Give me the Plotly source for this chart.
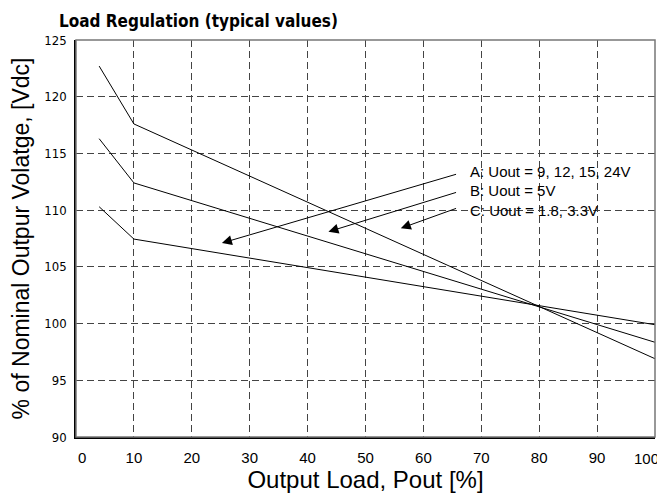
import plotly.graph_objects as go

# Data
load_pct = [4, 10, 100]
series_a = [122.7, 117.6, 96.9]   # A: Uout = 9, 12, 15, 24V
series_b = [116.3, 112.4, 98.35]  # B: Uout = 5V
series_c = [110.3, 107.45, 99.9]  # C: Uout = 1.8, 3.3V

x_ticks = [0, 10, 20, 30, 40, 50, 60, 70, 80, 90, 100]
x_ticktext = ["\u00a0\u00a0\u00a00", "10", "20", "30", "40", "50", "60", "70", "80",
              "90", ""]
last_x_label = "100"
y_ticks = [90, 95, 100, 105, 110, 115, 120, 125]

labels = ["A: Uout = 9, 12, 15, 24V", "B: Uout = 5V", "C: Uout = 1.8, 3.3V"]
label_x = 67.8
label_y = [113.45, 111.75, 110.0]
arrow_tail_x = [65.9, 65.9, 65.9]
arrow_tail_y = [113.2, 111.6, 110.2]
arrow_tip_x = [25.2, 43.6, 56.1]
arrow_tip_y = [107.1, 108.1, 108.4]

NARROW = "DejaVu Sans Condensed, Liberation Sans Narrow, Arial Narrow, sans-serif"
SANS = "Liberation Sans, Arial, sans-serif"

# page has an 8px body margin, so the figure is sized to the visible area
W, H = 657, 489

fig = go.Figure()
for ys in (series_a, series_b, series_c):
    fig.add_trace(go.Scatter(x=load_pct, y=ys, mode="lines",
                             line=dict(color="black", width=1),
                             showlegend=False, hoverinfo="skip"))

annotations = []
for tx, ty, hx, hy in zip(arrow_tail_x, arrow_tail_y, arrow_tip_x, arrow_tip_y):
    annotations.append(dict(x=hx, y=hy, ax=tx, ay=ty, xref="x", yref="y",
                            axref="x", ayref="y", text="", showarrow=True,
                            arrowhead=2, arrowsize=2.0, arrowwidth=1,
                            arrowcolor="black"))
for t, ly in zip(labels, label_y):
    annotations.append(dict(x=label_x, y=ly, xref="x", yref="y", text=t,
                            showarrow=False, xanchor="left", yanchor="middle",
                            borderpad=0,
                            font=dict(family=SANS, size=15, color="black")))
# last x tick label, kept inside the page like in the reference
annotations.append(dict(x=x_ticks[-1], y=0, xref="x", yref="paper",
                        text=last_x_label, showarrow=False,
                        xanchor="right", yanchor="top", xshift=5, yshift=-12,
                        borderpad=0,
                        font=dict(family=SANS, size=15, color="black")))

fig.update_layout(
    width=W, height=H,
    margin=dict(l=67.5, r=10, t=32, b=60),
    paper_bgcolor="white", plot_bgcolor="white",
    title=dict(text="<b>Load Regulation (typical values)</b>",
               font=dict(family=NARROW, size=17, color="black"),
               xref="container", yref="container",
               x=51 / W, xanchor="left", y=1 - 13 / H, yanchor="middle"),
    annotations=annotations,
    shapes=[dict(type="rect", xref="paper", yref="paper", x0=0, y0=0, x1=1, y1=1,
                 line=dict(color="#777777", width=1.5), layer="above")],
)

fig.update_xaxes(range=[0, 100], tickvals=x_ticks, ticktext=x_ticktext, ticks="",
                 showgrid=True,
                 gridcolor="#444444", griddash="7px,4px", gridwidth=1,
                 zeroline=False, showline=True, linecolor="black", linewidth=1.5,
                 automargin=False, ticklabeloverflow="allow", ticklabelstandoff=6,
                 tickfont=dict(family=SANS, size=15, color="black"),
                 title=dict(text="Output Load, Pout [%]",
                            font=dict(family=SANS, size=24, color="black"),
                            standoff=6))
fig.update_yaxes(range=[90, 125], tickvals=y_ticks, ticks="", showgrid=True,
                 gridcolor="#444444", griddash="7px,4px", gridwidth=1,
                 zeroline=False, showline=True, linecolor="black", linewidth=1.5,
                 automargin=False, ticklabeloverflow="allow", ticklabelstandoff=5,
                 tickfont=dict(family=NARROW, size=13, color="black"),
                 title=dict(text="% of Nominal Outpur Volatge, [Vdc]",
                            font=dict(family=SANS, size=23, color="black"),
                            standoff=8))

fig.write_html("out.html")
